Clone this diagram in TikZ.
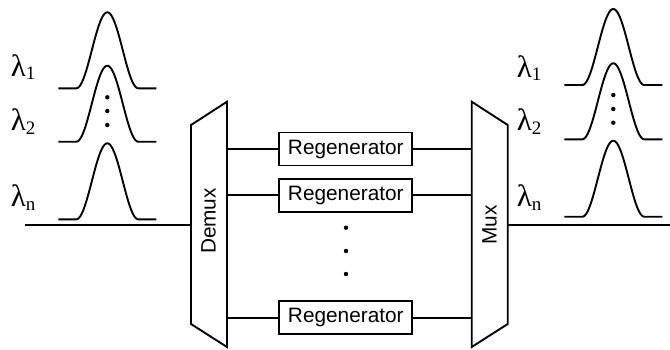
\documentclass[tikz,border=0pt]{standalone}
\usepackage{fontspec}
\setmainfont{Liberation Serif}
\newfontfamily\blockfont{Liberation Sans}

% subscript of a wavelength label
\newcommand{\wlsub}[1]{\raisebox{-3.5pt}{\fontsize{19}{19}\selectfont #1}}
% one optical pulse: #1 = left end x, #2 = baseline y
\newcommand{\pulseat}[2]{%
  \draw[pulse] (#1,#2) -- ++(18,0)
    -- plot[domain=-31:31, samples=63, variable=\t]
       ({#1+49+\t},{#2-38*(1+cos(180*\t/31))})
    -- ++(18,0);}

\begin{document}
\begin{tikzpicture}[x=1pt, y=-1pt,
  line width=1.9pt,
  wire/.style={line width=1.9pt},
  pulse/.style={line width=1.9pt, line join=round},
  block/.style={line width=1.9pt, line join=miter},
  regen/.style={draw, line width=1.9pt, minimum width=133pt, minimum height=33pt,
    inner sep=0pt, font=\blockfont\fontsize{20.8}{24}\selectfont},
  blocklabel/.style={rotate=90, inner sep=0pt, font=\blockfont\fontsize{20.8}{24}\selectfont},
  wl/.style={anchor=base west, inner sep=0pt, font=\fontsize{31}{33}\selectfont},
  dot/.style={circle, fill, inner sep=0pt, minimum size=4.4pt}]
\useasboundingbox (0,0) rectangle (670,349);

% input pulses
\pulseat{58.3}{88.3}
\pulseat{58.3}{141.7}
\pulseat{58.3}{219.3}
\node[dot] (ld1) at (107.3,97.3) {};
\node[dot] (ld2) at (107.3,111) {};
\node[dot] (ld3) at (107.3,125) {};
\node[wl] (lin1) at (10,76) {λ\wlsub{1}};
\node[wl] (lin2) at (10,130.5) {λ\wlsub{2}};
\node[wl] (linn) at (10,206.5) {λ\wlsub{n}};

% output pulses
\pulseat{564.3}{85}
\pulseat{564.3}{139.3}
\pulseat{564.3}{216.7}
\node[dot] (rd1) at (613.3,95) {};
\node[dot] (rd2) at (613.3,109) {};
\node[dot] (rd3) at (613.3,122.7) {};
\node[wl] (lout1) at (516,77) {λ\wlsub{1}};
\node[wl] (lout2) at (516,130.5) {λ\wlsub{2}};
\node[wl] (loutn) at (516,206.5) {λ\wlsub{n}};

% demultiplexer
\draw[block] (191,125) -- (227,101.7) -- (227,347) -- (191,324) -- cycle;
\node[blocklabel] (dmxlabel) at (208.5,221) {Demux};
\coordinate (dmx-in) at (191,225);
\coordinate (dmx-o1) at (227,149);
\coordinate (dmx-o2) at (227,195.3);
\coordinate (dmx-o3) at (227,317.7);

% multiplexer
\draw[block] (471.7,101.7) -- (507.7,125) -- (507.7,324) -- (471.7,347) -- cycle;
\node[blocklabel] (muxlabel) at (489.5,225) {Mux};
\coordinate (mux-i1) at (471.7,149);
\coordinate (mux-i2) at (471.7,195.3);
\coordinate (mux-i3) at (471.7,317.7);
\coordinate (mux-out) at (507.7,225);

% regenerators
\node[regen] (r1) at (345.8,149) {Regenerator};
\node[regen] (r2) at (345.8,195.3) {Regenerator};
\node[regen] (r3) at (345.8,317.7) {Regenerator};
\node[dot] (md1) at (346,227.7) {};
\node[dot] (md2) at (346,251) {};
\node[dot] (md3) at (346,274) {};

% fibre ends
\coordinate (fibre-in) at (25,225);
\coordinate (fibre-out) at (670,225);

% connections
\draw[wire] (fibre-in) -- (dmx-in);
\draw[wire] (dmx-o1) -- (r1.west);
\draw[wire] (dmx-o2) -- (r2.west);
\draw[wire] (dmx-o3) -- (r3.west);
\draw[wire] (r1.east) -- (mux-i1);
\draw[wire] (r2.east) -- (mux-i2);
\draw[wire] (r3.east) -- (mux-i3);
\draw[wire] (mux-out) -- (fibre-out);
\end{tikzpicture}
\end{document}
